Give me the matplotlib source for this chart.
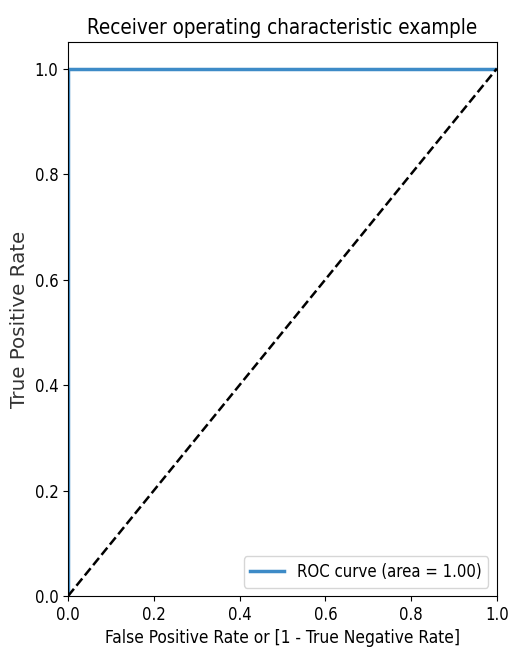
import numpy as np
import matplotlib.pyplot as plt

# ROC values (perfect classifier)
fpr = [0.0, 0.0, 1.0]
tpr = [0.0, 1.0, 1.0]
roc_auc = 1.00
chance = [0.0, 1.0]

plt.rcParams['font.family'] = ['DejaVu Sans']
plt.rcParams['font.stretch'] = 'condensed'

fig = plt.figure(figsize=(5.08, 6.6), dpi=100)
ax = fig.add_axes([0.134, 0.097, 0.844, 0.839])
ax.plot(fpr, tpr, color='#3d8bc7', lw=2.5, label='ROC curve (area = %0.2f)' % roc_auc)
ax.plot(chance, chance, 'k--', lw=1.8)
ax.set_xlim([0.0, 1.0])
ax.set_ylim([0.0, 1.05])
ax.tick_params(labelsize=12)
ax.set_xlabel('False Positive Rate or [1 - True Negative Rate]', fontsize=12.4)
ax.set_ylabel('True Positive Rate', fontsize=14.3, fontstretch='normal', labelpad=4,
              color='#333333')
ax.set_title('Receiver operating characteristic example', fontsize=14.8)
ax.legend(loc='lower right', fontsize=12)
fig.savefig('out.png', dpi=100)
